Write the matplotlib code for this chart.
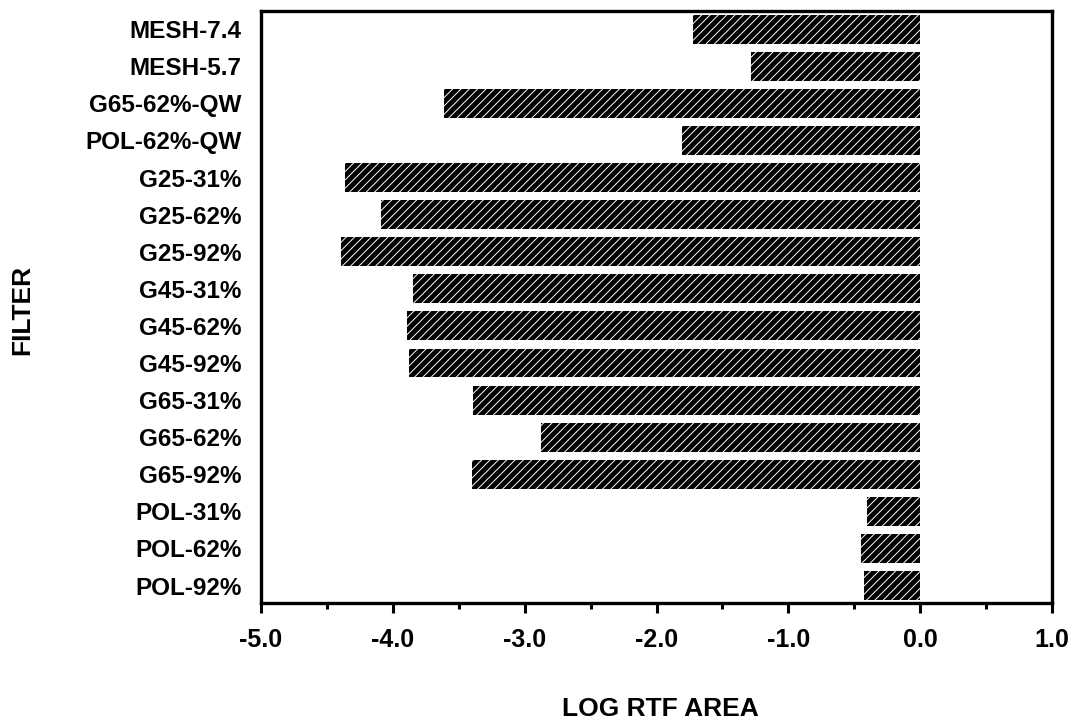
import numpy as np
import matplotlib
matplotlib.use("Agg")
import matplotlib.pyplot as plt

plt.rcParams['font.family'] = ['Liberation Sans', 'DejaVu Sans']
plt.rcParams['font.weight'] = 'bold'
plt.rcParams['hatch.color'] = 'white'
plt.rcParams['hatch.linewidth'] = 0.7

# filters, top to bottom as in the chart
filters = ["MESH-7.4", "MESH-5.7", "G65-62%-QW", "POL-62%-QW",
           "G25-31%", "G25-62%", "G25-92%",
           "G45-31%", "G45-62%", "G45-92%",
           "G65-31%", "G65-62%", "G65-92%",
           "POL-31%", "POL-62%", "POL-92%"]
log_rtf_area = [-1.72, -1.28, -3.61, -1.81,
                -4.36, -4.09, -4.39,
                -3.85, -3.89, -3.88,
                -3.39, -2.88, -3.40,
                -0.40, -0.45, -0.43]

x_major = [-5.0, -4.0, -3.0, -2.0, -1.0, 0.0, 1.0]
x_minor = [-4.5, -3.5, -2.5, -1.5, -0.5, 0.5]

fig = plt.figure(figsize=(10.85, 7.26), dpi=100)
ax = fig.add_axes([0.2406, 0.1694, 0.9696 - 0.2406, 0.9848 - 0.1694])

ypos = np.arange(len(filters))[::-1]
ax.barh(ypos, log_rtf_area, height=0.78, color='black', hatch='////',
        linewidth=0)

ax.set_xlim(-5, 1)
ax.set_ylim(-0.47, 15.49)
ax.set_yticks(ypos)
ax.set_yticklabels(filters, fontsize=17.5, fontweight='bold')
ax.tick_params(axis='y', length=0, pad=14)

ax.set_xticks(x_major)
ax.set_xticklabels(["{:.1f}".format(v) for v in x_major], fontsize=18,
                   fontweight='bold')
ax.set_xticks(x_minor, minor=True)
ax.tick_params(axis='x', which='major', direction='out', length=7, width=2.2,
               pad=11)
ax.tick_params(axis='x', which='minor', direction='out', length=4, width=2.2)

for s in ax.spines.values():
    s.set_linewidth(2.4)

# axis titles placed in figure coords
fig.text(660 / 1085, 1 - 709 / 726, "LOG RTF AREA", fontsize=19,
         fontweight='bold', ha='center', va='center')
fig.text(22 / 1085, 1 - 310 / 726, "FILTER", fontsize=19, fontweight='bold',
         ha='center', va='center', rotation=90)

fig.savefig("out.png", dpi=100)
